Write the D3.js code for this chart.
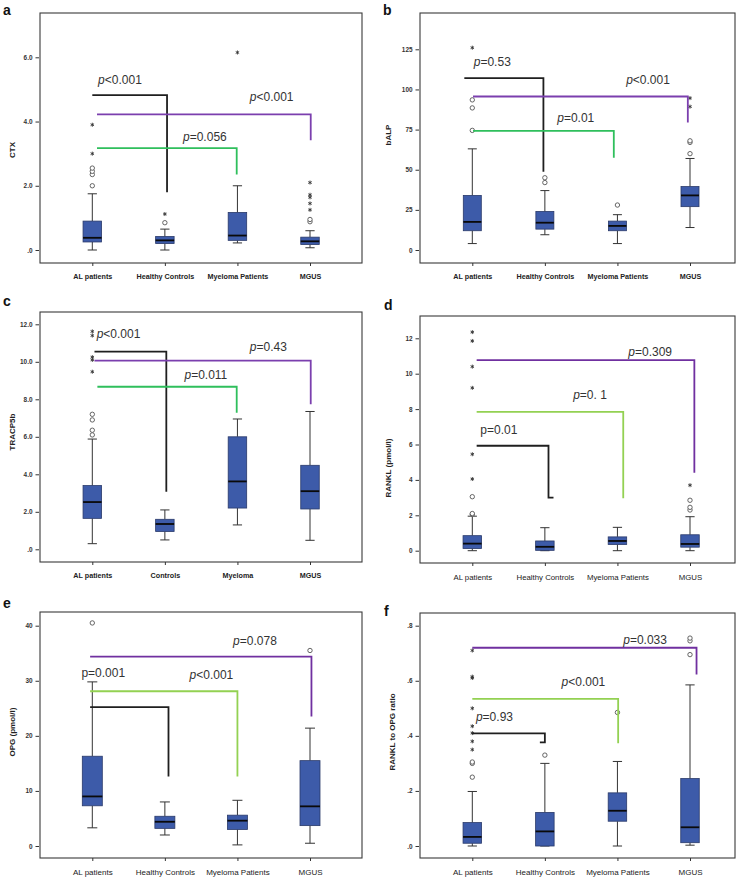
<!DOCTYPE html>
<html>
<head>
<meta charset="utf-8">
<script src="https://cdn.jsdelivr.net/npm/d3@7"></script>
<style>
  html,body{margin:0;padding:0;background:#fff;}
  svg{display:block;font-family:"Liberation Sans",Arial,sans-serif;}
</style>
</head>
<body>
<svg id="chart" width="745" height="879"></svg>
<script>
// ---------------- DATA ----------------
const groupsLong  = ["AL patients", "Healthy Controls", "Myeloma Patients", "MGUS"];
const groupsShort = ["AL patients", "Controls", "Myeloma", "MGUS"];

// five-number summaries per group: [whiskerLow, q1, median, q3, whiskerHigh]
const ctxBoxes   = [[0, 0.25, 0.38, 0.9, 1.75], [0, 0.2, 0.3, 0.42, 0.65], [0.22, 0.3, 0.45, 1.17, 2.0], [0.07, 0.17, 0.27, 0.4, 0.6]];
const ctxCircles = [[0, 2.0], [0, 2.35], [0, 2.45], [0, 2.55], [1, 0.85], [3, 0.88], [3, 0.95]];
const ctxStars   = [[0, 3.0], [0, 3.9], [1, 1.12], [2, 6.15], [3, 1.25], [3, 1.45], [3, 1.64], [3, 1.72], [3, 2.1]];
const ctxTicks   = [0, 2, 4, 6];
const ctxTickLabels = [".0", "2.0", "4.0", "6.0"];
const ctxBrackets = [
  {kind: "black",  from: 0.0,  to: 1.03, level: 4.82, end: 1.8,  p: "<0.001", at: 0.08, lv: 5.18, italic: true},
  {kind: "purple", from: 0.065, to: 3.01, level: 4.22, end: 3.42, p: "<0.001", at: 2.17, lv: 4.64, italic: true},
  {kind: "green",  from: 0.065, to: 1.99, level: 3.17, end: 2.35, p: "=0.056", at: 1.25, lv: 3.40, italic: true}
];

const balpBoxes   = [[4, 12, 17.5, 34, 63], [9.5, 13, 17, 24, 37], [4, 12, 15, 18, 22], [14, 27, 34, 39.5, 57]];
const balpCircles = [[0, 74.5], [0, 88.5], [0, 93.5], [1, 42], [1, 45], [2, 28], [3, 60], [3, 67], [3, 68]];
const balpStars   = [[0, 126], [3, 89.3], [3, 94.6]];
const balpTicks   = [0, 25, 50, 75, 100, 125];
const balpTickLabels = ["0", "25", "50", "75", "100", "125"];
const balpBrackets = [
  {kind: "black",  from: -0.11, to: 0.98, level: 107,  end: 48.8, p: "=0.53",  at: 0.02, lv: 114.9, italic: true},
  {kind: "purple", from: 0.01,  to: 2.97, level: 95.6, end: 79.4, p: "<0.001", at: 2.12, lv: 103.5, italic: true},
  {kind: "green",  from: 0.01,  to: 1.95, level: 74.2, end: 57.5, p: "=0.01",  at: 1.17, lv: 79.6,  italic: true}
];

const tracpBoxes   = [[0.3, 1.65, 2.52, 3.4, 5.88], [0.5, 0.95, 1.35, 1.6, 2.1], [1.3, 2.2, 3.62, 6.0, 6.95], [0.48, 2.15, 3.1, 4.48, 7.35]];
const tracpCircles = [[0, 6.1], [0, 6.35], [0, 6.9], [0, 7.2]];
const tracpStars   = [[0, 9.47], [0, 10.1], [0, 10.25], [0, 11.4], [0, 11.62]];
const tracpTicks   = [0, 2, 4, 6, 8, 10, 12];
const tracpTickLabels = [".0", "2.0", "4.0", "6.0", "8.0", "10.0", "12.0"];
const tracpBrackets = [
  {kind: "black",  from: 0.03, to: 1.02, level: 10.54, end: 3.07, p: "<0.001", at: 0.06, lv: 11.25, italic: true},
  {kind: "purple", from: 0.03, to: 3.01, level: 10.06, end: 7.73, p: "=0.43",  at: 2.17, lv: 10.56, italic: true},
  {kind: "green",  from: 0.07, to: 1.99, level: 8.67,  end: 7.28, p: "=0.011", at: 1.27, lv: 9.08,  italic: true}
];

const ranklBoxes   = [[0, 0.12, 0.4, 0.85, 1.95], [0, 0.02, 0.22, 0.55, 1.3], [0, 0.35, 0.55, 0.78, 1.32], [0, 0.2, 0.38, 0.9, 1.92]];
const ranklCircles = [[0, 2.05], [0, 2.1], [0, 3.05], [3, 2.3], [3, 2.45], [3, 2.85]];
const ranklStars   = [[0, 4.05], [0, 5.45], [0, 9.2], [0, 10.4], [0, 11.85], [0, 12.35], [3, 3.7]];
const ranklTicks   = [0, 2, 4, 6, 8, 10, 12];
const ranklTickLabels = ["0", "2", "4", "6", "8", "10", "12"];
const ranklBrackets = [
  {kind: "black",  from: 0.06, to: 1.05, level: 5.93,  end: 3.0,  p: "=0.01",   at: 0.11, lv: 6.59,  italic: false, foot: 1},
  {kind: "green",  from: 0.06, to: 2.08, level: 7.84,  end: 2.97, p: "=0. 1",   at: 1.39, lv: 8.57,  italic: true},
  {kind: "purple", from: 0.06, to: 3.06, level: 10.77, end: 4.4,  p: "=0.309",  at: 2.15, lv: 11.02, italic: true}
];

const opgBoxes   = [[3.3, 7.3, 9, 16.3, 29.8], [2, 3.2, 4.4, 5.4, 8], [0.2, 3, 4.6, 5.6, 8.3], [0.5, 3.7, 7.2, 15.5, 21.4]];
const opgCircles = [[0, 40.5], [3, 35.5]];
const opgStars   = [];
const opgTicks   = [0, 10, 20, 30, 40];
const opgTickLabels = ["0", "10", "20", "30", "40"];
const opgBrackets = [
  {kind: "black",  from: -0.03, to: 1.05, level: 25.2, end: 12.6, p: "=0.001", at: -0.15, lv: 30.6, italic: false},
  {kind: "green",  from: -0.03, to: 2.0,  level: 28.1, end: 12.6, p: "<0.001", at: 1.34,  lv: 30.4, italic: true},
  {kind: "purple", from: -0.03, to: 3.02, level: 34.4, end: 23.5, p: "=0.078", at: 1.94,  lv: 36.5, italic: true}
];

const ratioBoxes   = [[0, 0.01, 0.033, 0.085, 0.198], [0, 0, 0.053, 0.122, 0.3], [0, 0.09, 0.128, 0.193, 0.307], [0.003, 0.012, 0.068, 0.245, 0.585]];
const ratioCircles = [[0, 0.25], [0, 0.3], [0, 0.305], [1, 0.33], [2, 0.485], [3, 0.695], [3, 0.745], [3, 0.755]];
const ratioStars   = [[0, 0.35], [0, 0.38], [0, 0.41], [0, 0.435], [0, 0.5], [0, 0.61], [0, 0.615], [0, 0.71]];
const ratioTicks   = [0, 0.2, 0.4, 0.6, 0.8];
const ratioTickLabels = [".0", ".2", ".4", ".6", ".8"];
const ratioBrackets = [
  {kind: "black",  from: 0.0, to: 1.0,  level: 0.409, end: 0.376, p: "=0.93",  at: 0.05, lv: 0.455, italic: true, foot: -1},
  {kind: "green",  from: 0.0, to: 2.01, level: 0.534, end: 0.373, p: "<0.001", at: 1.23, lv: 0.582, italic: true},
  {kind: "purple", from: 0.0, to: 3.09, level: 0.72,  end: 0.623, p: "=0.033", at: 2.08, lv: 0.733, italic: true}
];

// ---------------- LAYOUT ----------------
const panels = [
  {letter: "a", title: "CTX", groups: groupsLong, boxes: ctxBoxes, circles: ctxCircles, stars: ctxStars, ticks: ctxTicks, tickLabels: ctxTickLabels, brackets: ctxBrackets,
   frame: [40, 13, 362, 263], y0: 250, yTop: 57.3, titleX: 12, titleY: 150, letterXY: [3, 10], green: "#2fbf5c", purple: "#7b3fae", catBold: true, catSize: 7.2, boxW: 18.5},
  {letter: "b", title: "bALP", groups: groupsLong, boxes: balpBoxes, circles: balpCircles, stars: balpStars, ticks: balpTicks, tickLabels: balpTickLabels, brackets: balpBrackets,
   frame: [420, 13, 735, 263], y0: 250, yTop: 49.3, titleX: 388, titleY: 135, letterXY: [383, 10], green: "#2fbf5c", purple: "#7b3fae", catBold: true, catSize: 7.2, boxW: 18},
  {letter: "c", title: "TRACP5b", groups: groupsShort, boxes: tracpBoxes, circles: tracpCircles, stars: tracpStars, ticks: tracpTicks, tickLabels: tracpTickLabels, brackets: tracpBrackets,
   frame: [40, 312, 362, 562], y0: 549.3, yTop: 324.3, titleX: 12, titleY: 432, letterXY: [3, 301], green: "#2fbf5c", purple: "#7b3fae", catBold: true, catSize: 7.2, boxW: 18.5},
  {letter: "d", title: "RANKL (pmol/l)", groups: groupsLong, boxes: ranklBoxes, circles: ranklCircles, stars: ranklStars, ticks: ranklTicks, tickLabels: ranklTickLabels, brackets: ranklBrackets,
   frame: [420, 316, 735, 563], y0: 550.7, yTop: 338.3, titleX: 388, titleY: 468, letterXY: [384, 305], green: "#93d152", purple: "#7030a0", catBold: false, catSize: 7.8, boxW: 18.5},
  {letter: "e", title: "OPG (pmol/l)", groups: groupsLong, boxes: opgBoxes, circles: opgCircles, stars: opgStars, ticks: opgTicks, tickLabels: opgTickLabels, brackets: opgBrackets,
   frame: [40, 612, 362, 858], y0: 846, yTop: 625.7, titleX: 12, titleY: 732, letterXY: [3, 603], green: "#93d152", purple: "#7030a0", catBold: false, catSize: 8, boxW: 20},
  {letter: "f", title: "RANKL to OPG ratio", groups: groupsLong, boxes: ratioBoxes, circles: ratioCircles, stars: ratioStars, ticks: ratioTicks, tickLabels: ratioTickLabels, brackets: ratioBrackets,
   frame: [420, 613, 735, 858], y0: 846, yTop: 625.7, titleX: 392, titleY: 732, letterXY: [384, 611], green: "#93d152", purple: "#7030a0", catBold: false, catSize: 8, boxW: 18.5}
];

const svg = d3.select("#chart");
const boxFill = "#3d5ba9";
const starSym = d3.symbol().type(d3.symbolAsterisk).size(11);

panels.forEach(P => {
  const [fx0, fy0, fx1, fy1] = P.frame;
  const g = svg.append("g");
  const x = d3.scalePoint().domain(P.groups).range([fx0 + 52.3, fx0 + 270]);
  const y = d3.scaleLinear().domain([0, P.ticks[P.ticks.length - 1]]).range([P.y0, P.yTop]);
  const xf = f => x(P.groups[0]) + f * x.step();
  const colorOf = k => k === "black" ? "#1f1f1f" : (k === "green" ? P.green : P.purple);

  // frame
  g.append("rect").attr("x", fx0).attr("y", fy0).attr("width", fx1 - fx0).attr("height", fy1 - fy0)
    .attr("fill", "none").attr("stroke", "#3a3a3a").attr("stroke-width", 1.1);

  // y axis
  const ya = g.append("g").attr("transform", `translate(${fx0 - 1},0)`)
    .call(d3.axisLeft(y).tickValues(P.ticks).tickFormat((d, i) => P.tickLabels[i]).tickSize(3.5).tickPadding(3));
  ya.select(".domain").remove();
  ya.selectAll("line").attr("stroke", "#333");
  ya.selectAll("text").attr("font-size", 6.4).attr("font-weight", "bold").attr("fill", "#333").attr("font-family", "Liberation Sans, Arial, sans-serif");

  // x axis
  const xa = g.append("g").attr("transform", `translate(0,${fy1})`)
    .call(d3.axisBottom(x).tickSize(3).tickPadding(8));
  xa.select(".domain").remove();
  xa.selectAll("line").attr("stroke", "#333");
  xa.selectAll("text").attr("font-size", P.catSize).attr("font-weight", P.catBold ? "bold" : "normal")
    .attr("fill", "#222").attr("font-family", "Liberation Sans, Arial, sans-serif");

  // y title
  g.append("text").attr("transform", `translate(${P.titleX},${P.titleY}) rotate(-90)`)
    .attr("text-anchor", "middle").attr("dy", "0.35em")
    .attr("font-size", 8).attr("font-weight", "bold").attr("fill", "#222").text(P.title);

  // panel letter
  g.append("text").attr("x", P.letterXY[0]).attr("y", P.letterXY[1]).attr("dy", "0.35em")
    .attr("font-size", 14).attr("font-weight", "bold").attr("fill", "#111").text(P.letter);

  // boxes
  const bw = P.boxW;
  P.boxes.forEach((b, i) => {
    const cx = x(P.groups[i]);
    const [lo, q1, md, q3, hi] = b;
    g.append("line").attr("x1", cx).attr("x2", cx).attr("y1", y(lo)).attr("y2", y(q1)).attr("stroke", "#333").attr("stroke-width", 1);
    g.append("line").attr("x1", cx).attr("x2", cx).attr("y1", y(q3)).attr("y2", y(hi)).attr("stroke", "#333").attr("stroke-width", 1);
    g.append("line").attr("x1", cx - bw / 4).attr("x2", cx + bw / 4).attr("y1", y(lo)).attr("y2", y(lo)).attr("stroke", "#333").attr("stroke-width", 1);
    g.append("line").attr("x1", cx - bw / 4).attr("x2", cx + bw / 4).attr("y1", y(hi)).attr("y2", y(hi)).attr("stroke", "#333").attr("stroke-width", 1);
    g.append("rect").attr("x", cx - bw / 2).attr("y", y(q3)).attr("width", bw).attr("height", Math.max(0.5, y(q1) - y(q3)))
      .attr("fill", boxFill).attr("stroke", "#2a3a6a").attr("stroke-width", 0.8);
    g.append("line").attr("x1", cx - bw / 2).attr("x2", cx + bw / 2).attr("y1", y(md)).attr("y2", y(md)).attr("stroke", "#0a0a0a").attr("stroke-width", 1.8);
  });

  // outliers
  g.selectAll(".circ").data(P.circles).enter().append("circle")
    .attr("cx", d => x(P.groups[d[0]])).attr("cy", d => y(d[1])).attr("r", 2.2)
    .attr("fill", "#fff").attr("stroke", "#555").attr("stroke-width", 0.9);
  g.selectAll(".star").data(P.stars).enter().append("path")
    .attr("d", starSym).attr("transform", d => `translate(${x(P.groups[d[0]])},${y(d[1])})`)
    .attr("fill", "none").attr("stroke", "#333").attr("stroke-width", 0.9);

  // brackets
  P.brackets.forEach(br => {
    const xs = xf(br.from), xe = xf(br.to);
    let path = `M${xs},${y(br.level)}H${xe}V${y(br.end)}`;
    if (br.foot) path += `h${br.foot * 5}`;
    g.append("path").attr("d", path).attr("fill", "none").attr("stroke", colorOf(br.kind)).attr("stroke-width", 1.8);
    const t = g.append("text").attr("x", xf(br.at)).attr("y", y(br.lv)).attr("font-size", 12).attr("fill", "#333");
    t.append("tspan").attr("font-style", br.italic ? "italic" : "normal").text("p");
    t.append("tspan").text(br.p);
  });
});
</script>
</body>
</html>
